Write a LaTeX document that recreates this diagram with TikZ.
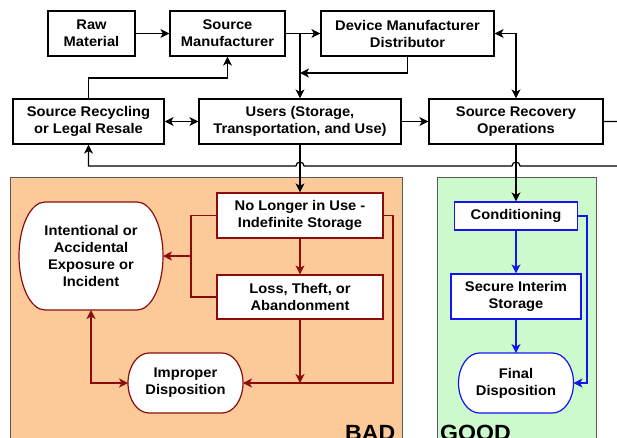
\documentclass[tikz,border=0pt]{standalone}
\usepackage{fontspec}
\setmainfont{Liberation Sans}[FakeStretch=1.05]
\usetikzlibrary{arrows.meta,calc}
\definecolor{badred}{RGB}{140,12,12}
\definecolor{goodblue}{RGB}{20,20,240}
\definecolor{badfill}{RGB}{252,202,152}
\definecolor{goodfill}{RGB}{204,250,204}
\pgfdeclarelayer{zones}
\pgfdeclarelayer{shapes}
\pgfsetlayers{zones,shapes,main}
% terminal outline with elliptical ends around a node: name, end radius, colour
\newcommand\ovalshape[3]{%
  \begin{pgfonlayer}{shapes}
  \path let \p1=(#1.north west), \p2=(#1.south east), \n1={(\y1-\y2)/2} in
    [draw=#3, line width=1.2pt, fill=white] (\x1+#2pt,\y1) -- (\x2-#2pt,\y1)
    arc[start angle=90, end angle=-90, x radius=#2pt, y radius=\n1]
    -- (\x1+#2pt,\y2)
    arc[start angle=270, end angle=90, x radius=#2pt, y radius=\n1] -- cycle;
  \end{pgfonlayer}}
\begin{document}
\begin{tikzpicture}[x=1pt,y=1pt,
  font=\bfseries\fontsize{14}{17}\selectfont,
  >={Stealth[length=9pt,width=9pt,inset=2.5pt]},
  box/.style={draw=black, line width=1.2pt, fill=white, align=center, inner sep=2pt},
  badbox/.style={box, draw=badred},
  goodbox/.style={box, draw=goodblue},
  term/.style={align=center, inner sep=2pt, outer sep=0pt},
  zone/.style={draw=black!65, line width=0.8pt},
  zonelabel/.style={anchor=north west, inner sep=0pt, font=\bfseries\fontsize{22}{22}\selectfont},
  wire/.style={line width=1.2pt},
  flow/.style={wire, ->, draw=black},
  badflow/.style={wire, ->, draw=badred},
  goodflow/.style={wire, ->, draw=goodblue}]
\path[use as bounding box] (0,0) rectangle (617,-437);
\clip (0,0) rectangle (617,-437);

% shaded zones
\begin{pgfonlayer}{zones}
\path[zone, fill=badfill] (10,-177) rectangle (402,-450);
\path[zone, fill=goodfill] (437,-177) rectangle (596,-450);
\end{pgfonlayer}
\node[zonelabel] (badlbl) at (345,-425) {BAD};
\node[zonelabel] (goodlbl) at (440,-425) {GOOD};

% upper supply chain
\node[box, minimum width=87pt, minimum height=45pt] (raw) at (91.5,-33.5) {Raw\\Material};
\node[box, minimum width=115pt, minimum height=45pt] (smf) at (227.5,-33.5) {Source\\Manufacturer};
\node[box, minimum width=173pt, minimum height=45pt] (dev) at (407.5,-33.5) {Device Manufacturer\\Distributor};
\node[box, minimum width=151pt, minimum height=45pt] (rec) at (88.5,-121.5) {Source Recycling\\or Legal Resale};
\node[box, minimum width=202pt, minimum height=45pt] (users) at (300,-121.5) {Users (Storage,\\Transportation, and Use)};
\node[box, minimum width=174pt, minimum height=45pt] (recov) at (516,-121.5) {Source Recovery\\Operations};

% bad path
\node[badbox, minimum width=166pt, minimum height=45pt] (nolonger) at (300,-215.5) {No Longer in Use -\\Indefinite Storage};
\node[badbox, minimum width=166pt, minimum height=44pt] (loss) at (300,-297) {Loss, Theft, or\\Abandonment};
\node[term, minimum width=144pt, minimum height=108pt] (intent) at (91,-256) {Intentional or\\Accidental\\Exposure or\\Incident};
\ovalshape{intent}{26}{badred}
\node[term, minimum width=115pt, minimum height=60pt] (improper) at (185.5,-383) {Improper\\Disposition};
\ovalshape{improper}{21}{badred}

% good path
\node[goodbox, minimum width=123pt, minimum height=28pt] (cond) at (516,-216) {Conditioning};
\node[goodbox, minimum width=130pt, minimum height=45pt] (secure) at (516,-296.5) {Secure Interim\\Storage};
\node[term, minimum width=115pt, minimum height=60pt] (final) at (516,-383) {Final\\Disposition};
\ovalshape{final}{21}{goodblue}

% junction points
\coordinate (j1) at (users.north |- smf.east);
\coordinate (j2) at (300,-73);
\coordinate (rtop) at (rec.north |- 0,-78);
\coordinate (loopR) at (640,-121.5);
\coordinate (loopB) at (640,-166);
\coordinate (rj) at (191,-256);
\coordinate (rk) at (393,-383);
\coordinate (bk) at (587,-383);

% black connectors
\draw[flow] (raw) -- (smf);
\draw[flow] (smf.east) -- (dev.west);
\draw[flow] (j1) -- (users.north);
\draw[flow] (dev.south) |- (j2);
\draw[flow, <->] (dev.east) -| (recov.north);
\draw[flow] (rec.north) -- (rtop) -| (smf.south);
\draw[flow, <->] (rec) -- (users);
\draw[flow] (users) -- (recov);
\draw[flow] (users.south) -- (nolonger.north);
\draw[flow] (recov.south) -- (cond.north);
\draw[flow] (recov.east) -- (loopR) -- (loopB)
  -- ($(recov.south |- loopB)+(4,0)$) arc[start angle=0, end angle=180, radius=4]
  -- ($(users.south |- loopB)+(4,0)$) arc[start angle=0, end angle=180, radius=4]
  -- (rec.south |- loopB) -- (rec.south);

% red connectors
\draw[badflow] (nolonger) -- (loss);
\draw[wire, draw=badred] (nolonger.west) -| (rj) |- (loss.west);
\draw[badflow] (rj) -- (intent.east);
\draw[badflow] (nolonger.east) -| (rk) -- (improper.east);
\draw[badflow] (loss.south) -- (loss.south |- improper.east);
\draw[badflow, <->] (intent.south) |- (improper.west);

% blue connectors
\draw[goodflow] (cond) -- (secure);
\draw[goodflow] (secure) -- (final);
\draw[goodflow] (cond.east) -| (bk) -- (final.east);
\end{tikzpicture}
\end{document}
